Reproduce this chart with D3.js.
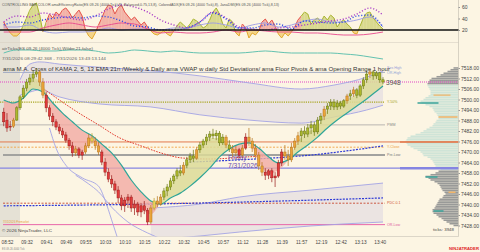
<!DOCTYPE html>
<html>
<head>
<meta charset="utf-8">
<script src="https://cdn.jsdelivr.net/npm/d3@7/dist/d3.min.js"></script>
<style>
html,body{margin:0;padding:0;background:#fcf5e3;overflow:hidden;}
svg{display:block;}
text{font-family:"Liberation Sans",Arial,sans-serif;}
</style>
</head>
<body>
<svg id="chart" width="480" height="252"></svg>
<script>
// ---------------- DATA ----------------
const timeLabels=["08:52","09:32","09:41","09:49","09:55","10:03","10:10","10:15","10:22","10:32","10:45","10:57","11:12","11:28","11:39","11:57","12:19","12:42","13:13","13:40"];
const timeLabelBars=[1,7,13,19,25,31,37,43,49,55,61,67,73,79,85,91,97,103,109,115];
const priceTicks=[7518,7512,7506,7500,7494,7488,7482,7476,7470,7464,7458,7452,7446,7440,7434,7428];
const oscTicks=[20,40,60];

// OHLC per bar [open, high, low, close]
const bars=[
[7492.75,7495.25,7484.75,7487.25],[7488.25,7492.25,7481.5,7483.75],[7484.25,7487.75,7482,7484.75],[7484.75,7489.5,7483.75,7488.25],
[7488.25,7496.25,7487.75,7495.25],[7495.25,7502.5,7494,7501.5],[7501.5,7508.25,7500.25,7506.5],[7506.5,7511.75,7504.75,7510],
[7510,7514.5,7508.25,7512.25],[7512.25,7516.75,7510,7514.5],[7514.5,7518,7512.75,7515.75],[7515.75,7516.75,7507.75,7510],
[7510,7512.25,7500.75,7502.5],[7502.5,7504.25,7492.75,7495.25],[7495.25,7496.75,7488.25,7490.5],[7490.5,7492.25,7484.75,7487.25],
[7487.25,7488.75,7482.5,7484.25],[7484.25,7486,7480.25,7482],[7482,7483.75,7478,7479.75],[7479.75,7481.5,7475.25,7476.75],
[7476.75,7478,7471.25,7473.5],[7473.5,7475.75,7467.25,7469.5],[7469.5,7473.5,7467.75,7471.75],[7471.75,7472.75,7466.5,7468.25],
[7468.25,7471.25,7465.5,7470],[7470,7475.25,7468.75,7473.5],[7473.5,7480.25,7472.25,7478],[7478,7480.75,7474.5,7476.25],
[7476.25,7478.5,7471.25,7473.5],[7473.5,7475.75,7468.25,7470],[7470,7471.25,7462.5,7464.25],[7464.25,7466.5,7456.25,7458.5],
[7458.5,7460.75,7452.75,7454.5],[7454.5,7456.75,7449.5,7451.75],[7451.75,7453.5,7446,7448.25],[7448.25,7450.5,7440.75,7443.75],
[7443.75,7445.5,7436.75,7439.25],[7439.25,7444.25,7435.75,7442.5],[7442.5,7446,7438,7444.25],[7444.25,7445.5,7435.75,7438],
[7438,7442.5,7434,7440.25],[7440.25,7441.5,7433.5,7435.75],[7435.75,7440.75,7432.75,7439.25],[7439.25,7442,7434.5,7436.75],
[7436.75,7438,7428.25,7430],[7430,7439.75,7428.75,7438],[7438,7443.75,7436.75,7442],[7442,7444.75,7438.5,7440.25],
[7440.25,7446,7439.25,7444.25],[7444.25,7449.5,7442.5,7447.75],[7447.75,7451.75,7444.75,7450],[7450,7455.25,7448.25,7453.5],
[7453.5,7457.5,7451.75,7456.25],[7456.25,7460.75,7454.5,7459.25],[7459.25,7462.5,7456.25,7458],[7458,7464.25,7456.75,7462.5],
[7462.5,7467.25,7460.75,7465.5],[7465.5,7469.5,7463.75,7467.75],[7467.75,7471.25,7464.25,7466.5],[7466.5,7472.75,7465.5,7471.25],
[7471.25,7475.75,7469.5,7474],[7474,7477.5,7472.25,7476.25],[7476.25,7480.25,7474,7478.5],[7478.5,7482,7476.25,7480.25],
[7480.25,7483.25,7477.5,7479.25],[7479.25,7482.5,7476.75,7480.75],[7480.75,7482,7473.5,7475.25],[7475.25,7480.25,7474,7478.5],
[7478.5,7479.75,7472.25,7474],[7474,7476.75,7470,7471.75],[7471.75,7474,7467.25,7469.5],[7469.5,7473.5,7467.75,7471.25],
[7471.25,7472.25,7466.5,7468.25],[7468.25,7474,7467.25,7472.25],[7472.25,7480.75,7471.25,7478.5],[7478.5,7483.75,7473.5,7476.25],
[7476.25,7478,7470,7472.25],[7472.25,7474.5,7466.5,7468.25],[7468.25,7470,7459.75,7462],[7462,7464.25,7456.25,7458.5],
[7458.5,7460.75,7454,7456.75],[7456.75,7460.25,7454.5,7459.25],[7459.25,7460.75,7452.75,7455.25],[7455.25,7458.5,7450,7456.25],
[7456.25,7465.5,7455.25,7463.75],[7463.75,7471.75,7462,7470],[7470,7474,7465.5,7467.75],[7467.75,7471.25,7462,7465.5],
[7465.5,7475.25,7464.25,7472.75],[7472.75,7478,7471.25,7476.25],[7476.25,7481.5,7474,7479.25],[7479.25,7483.75,7475.75,7482],
[7482,7484.75,7478,7480.25],[7480.25,7486,7478.5,7483.75],[7483.75,7487.75,7480.25,7485.5],[7485.5,7487.25,7479.25,7481.5],
[7481.5,7490,7480.25,7488.25],[7488.25,7492.25,7486,7490.5],[7490.5,7496.25,7488.25,7494.5],[7494.5,7498,7491.75,7496.25],
[7496.25,7500.25,7494,7498.5],[7498.5,7500.25,7494,7495.75],[7495.75,7499.75,7494,7498],[7498,7499.25,7494.5,7496.25],
[7496.25,7500.25,7495.25,7499.25],[7499.25,7503.25,7497.5,7502],[7502,7505.5,7499.75,7503.25],[7503.25,7507.25,7501.5,7505.5],
[7505.5,7506.5,7500.75,7502.5],[7502.5,7508.75,7501.5,7507.75],[7507.75,7512.75,7506,7511.25],[7511.25,7516.25,7509.5,7514.5],
[7514.5,7517.5,7512.25,7515.75],[7515.75,7516.75,7511.25,7513.5],[7513.5,7516.25,7511.75,7515.25],[7515.25,7515.75,7509.5,7511.25],
[7511.25,7512.75,7508.75,7510]
];
// bar colour codes: r red, g olive, o orange, y yellow
const barColors="rrrogggggggoorrrrrrrrrorrooyoorrrrrrrrrrrrrrroyooggggggogggoggggggggogoororooooorrrrrrooooogggggggoggggggogoggggoggggggoo".split("");

// moving averages (sampled bars)
const maIdx=[0,3,6,9,12,15,18,21,24,27,30,33,36,39,42,45,48,51,54,57,60,63,66,69,72,75,78,81,84,87,90,93,96,99,102,105,108,111,114,116];
const ema21=[7499.75,7498,7500.75,7506,7504.25,7498,7492.25,7487.25,7482.5,7479.25,7474.5,7469.5,7462.5,7454,7447.25,7442,7440.25,7443.75,7446.5,7450.5,7455.25,7460.75,7467.25,7471.75,7474.5,7475.25,7472.25,7467.25,7463.75,7465.5,7470,7474,7478.5,7483.75,7488.25,7492.25,7496.25,7500.25,7504.75,7507.75];
const kama=[7489.5,7487.75,7502.5,7512.25,7508.25,7489.5,7480.75,7472.25,7470,7475.25,7470,7454,7442.5,7440.25,7437.5,7434.5,7441.5,7451.25,7458.5,7465.5,7472.25,7478,7478,7472.25,7470,7475.25,7464.25,7457.5,7459.75,7465.5,7476.25,7481.5,7484.75,7494,7497.5,7500.25,7503.25,7511.25,7514.5,7511.25];

// VWAP std-dev bands
const bandIdx=[5,8,11,17,29,45,60,75,91,101,111,116];
const vwapUpper=[7511.25,7520.25,7521.5,7520.25,7518.5,7516.5,7513.5,7509.5,7506,7508.25,7512.75,7516.25];
const vwapInner=[7502.5,7504.25,7505.5,7501.5,7497.5,7495.75,7491.25,7488.25,7486.5,7490,7494,7496.75];
const lowBandIdx=[45,60,72,94,116];
const lowBandUpper=[7438,7440.25,7444.25,7448.25,7452.25];
const lowBandLower=[7419.75,7422,7424.25,7427.75,7430];
const sdOuterIdx=[14,16,19,24,29,31,33,35];
const sdOuter=[7483.75,7472.25,7462.5,7455.25,7450.5,7442.5,7431.25,7419.75];
const sdInnerIdx=[22,26,29,33,38,44,49];
const sdInner=[7456.75,7451.75,7447.25,7438.5,7430,7423.75,7419.75];
const redMaIdx=[11,17,23,29,35,42,48,55,63,75,80];
const redMa=[7507.75,7499.75,7492.25,7485.5,7478.5,7473.5,7469.5,7466.5,7466,7467.25,7467.75];
const weeklyIdx=[57,72,94,116];
const weeklyVwap=[7464.25,7465.5,7468.25,7473.5];
const prevVwapIdx=[0,45,75,116];
const prevVwap=[7439.25,7440.25,7441.5,7443.75];

// floor pivots / opening range levels
const levelNames=["Ses High","OR-High","PDH","Y-50%","PMM","R1","Y-Close","Pre-Low","ONL","PDC 0.1","OR-Low"];
const levelPrices=[7518,7515.5,7510,7498.5,7485.5,7475.75,7472.75,7468.25,7460.75,7440.75,7428.5];

// upper indicator panel
const osc=[33.9,23.5,14.8,9.6,9.6,14.8,28.7,40.9,54.8,63.5,
67,46,16.5,33.9,47.8,40.9,51.3,46,54.8,58.3,
51.3,40.9,47.8,54.8,44.3,20,9.6,4.3,14.8,28.7,
40.9,54.8,63.5,61.7,47.8,58.3,63.5,51.3,44.3,37.4,
42.6,35.7,28.7,33.9,25.2,18.3,13,11.3,14.8,18.3,
13,9.6,18.3,27,33.9,28.7,23.5,30.4,39.1,35.7,
30.4,23.5,27,37.4,51.3,58.3,47.8,30.4,23.5,39.1,
33.9,14.8,9.6,30.4,23.5,6.1,14.8,11.3,18.3,33.9,
39.1,30.4,37.4,27,13,6.1,14.8,9.6,16.5,25.2,
37.4,44.3,51.3,47.8,30.4,37.4,40.9,33.9,44.3,37.4,
46,40.9,25.2,33.9,37.4,30.4,25.2,14.8,13,27,
40.9,49.6,51.3,40.9,33.9,27,21.7];
const lineIdx=[0,4,8,12,16,20,24,28,32,36,40,44,48,52,56,60,64,68,72,76,80,84,88,92,96,100,104,108,112,116];
const dmMinus=[16.5,16.5,16.5,23.5,28.7,32.2,28.7,25.2,28.7,32.2,30.4,21.7,14.8,16.5,14.8,14.8,16.5,20,16.5,20,18.3,16.5,16.5,14.8,14.8,13,11.3,11.3,13,16.5];
const adxSlow=[25.2,25.2,28.7,18.3,14.8,16.5,16.5,18.3,23.5,20,21.7,21.7,20,23.5,23.5,28.7,32.2,28.7,23.5,28.7,32.2,25.2,28.7,35.7,39.1,33.9,33.9,37.4,42.6,25.2];
const adx=[33.9,44.3,42.6,49.6,46,40.9,37.4,44.3,56.5,63.5,60,51.3,37.4,28.7,23.5,33.9,51.3,40.9,25.2,21.7,20,23.5,25.2,28.7,32.2,35.7,39.1,47.8,58.3,46];
const dmPlus=[28.7,33.9,32.2,37.4,40.9,42.6,40.9,44.3,42.6,35.7,27,25.2,20,20,23.5,33.9,49.6,39.1,23.5,23.5,28.7,30.4,21.7,35.7,33.9,32.2,33.9,44.3,46,25.2];
const atr=[22.5,25,25,24.2,24.2,25,25,24.2,22.5,23.3,25,24.2,23.3,24.2,23.3,22.5,22.5,22.5,22.5,23.3,24.2,23.3,22.5,22.5,22.5,22.5,21.7,20.8,19.2,17.5];

// volume profile, one row per point from 7518 down to 7428
const profileTop=7518, profileBottom=7428;
const profileVol=[5,8,11,15,18,22,27,29,30,31,
31,30,29,28,28,28,30,33,35,38,
37,33,29,26,25,24,22,21,20,20,
22,23,25,26,29,32,35,38,43,48,
51,52,53,52,51,48,45,41,38,36,
35,31,28,26,25,24,23,22,18,20,
23,28,33,30,28,24,21,19,18,17,
16,14,13,15,16,19,20,21,22,23,
24,26,26,25,22,20,17,15,12,9,
5];
const vaHigh=7508.5, vaLow=7459.5;
const profMarkPrices=[7498,7502.5,7490,7455.75,7447,7436.25];
const profMarkFrom=[41,25,20,33,10,25];
const profMarkTo=[20,8,1,21,3,15];
const profMarkKind=["t","o","o","t","o","t"];

// ---------------- DRAWING ----------------
const W=480,H=252,AXX=458.5,MAIN_TOP=55,MAIN_BOT=236.5,TOP_BOT=42.5;
const svg=d3.select("#chart");
const x=d3.scaleLinear().domain([0,116]).range([3.7,383]);
const y=d3.scaleLinear().domain([7428,7518]).range([225.5,68]);
const yT=d3.scaleLinear().domain([20,60]).range([30,7]);
const yA=d3.scaleLinear().domain([15,30]).range([62,44]);
const xP=d3.scaleLinear().domain([0,60]).range([AXX,AXX-60]);

svg.append("rect").attr("width",W).attr("height",H).attr("fill","#fcf5e3");
svg.append("rect").attr("x",0).attr("y",0).attr("width",20).attr("height",MAIN_BOT).attr("fill","#e5e1d5");

const defs=svg.append("defs");
const rectClip=(id,x0,y0,w,h)=>defs.append("clipPath").attr("id",id).append("rect").attr("x",x0).attr("y",y0).attr("width",w).attr("height",h);
rectClip("cTop",0,0,AXX,TOP_BOT);
rectClip("cMain",0,MAIN_TOP,AXX,MAIN_BOT-MAIN_TOP);
rectClip("cUp",0,0,AXX,yT(20));
rectClip("cDn",0,yT(20),AXX,TOP_BOT-yT(20));

const mkLine=(idx,vals,sc,curve)=>d3.line().x((d,i)=>x(idx[i])).y(d=>sc(d)).curve(curve||d3.curveMonotoneX)(vals);
const mkArea=(idx,a,b,sc)=>d3.area().x((d,i)=>x(idx[i])).y0((d,i)=>sc(b[i])).y1(d=>sc(d)).curve(d3.curveMonotoneX)(a);

// panel separators & axis line
svg.append("line").attr("x1",0).attr("x2",AXX).attr("y1",TOP_BOT).attr("y2",TOP_BOT).attr("stroke","#d6d0c2").attr("stroke-width",0.6);
svg.append("line").attr("x1",0).attr("x2",AXX).attr("y1",MAIN_BOT).attr("y2",MAIN_BOT).attr("stroke","#cfc9bb").attr("stroke-width",0.7);
svg.append("line").attr("x1",AXX).attr("x2",AXX).attr("y1",0).attr("y2",MAIN_BOT).attr("stroke","#c9c3b5").attr("stroke-width",0.7);

// ---- top panel ----
const gTop=svg.append("g").attr("clip-path","url(#cTop)");
const regime=[];let last="r";
barColors.forEach(c=>{if(c==="r"||c==="g")last=c;regime.push(last);});
const gUp=gTop.append("g").attr("clip-path","url(#cUp)");
for(let i=0;i<osc.length-1;i++){
  const bull=regime[i]==="g";
  const fill=bull?"#d9d98f":"#f3b3a8", strk=bull?"#a3b024":"#e2453c";
  gUp.append("path").attr("d",d3.area().x(d=>x(d)).y0(yT(20)).y1((d,k)=>yT(osc[i+k]))([i,i+1]))
    .attr("fill",fill).attr("stroke",fill).attr("stroke-width",0.3);
  gUp.append("path").attr("d",d3.line().x(d=>x(d)).y((d,k)=>yT(osc[i+k]))([i,i+1]))
    .attr("fill","none").attr("stroke",strk).attr("stroke-width",0.9);
}
const gDn=gTop.append("g").attr("clip-path","url(#cDn)");
gDn.append("path").attr("d",d3.area().x((d,i)=>x(i)).y0(yT(20)).y1(d=>yT(d))(osc)).attr("fill","#f4d488");
gDn.append("path").attr("d",d3.line().x((d,i)=>x(i)).y(d=>yT(d))(osc)).attr("fill","none").attr("stroke","#e0a21e").attr("stroke-width",0.9);
gTop.append("path").attr("d",mkLine(lineIdx,adxSlow,yT)).attr("fill","none").attr("stroke","#9a9ae6").attr("stroke-width",0.9);
gTop.append("path").attr("d",mkLine(lineIdx,dmMinus,yT)).attr("fill","none").attr("stroke","#e8478c").attr("stroke-width",0.9);
gTop.append("path").attr("d",mkLine(lineIdx,adx,yT)).attr("fill","none").attr("stroke","#a83ac8").attr("stroke-width",1.4).attr("stroke-dasharray","1.1,1.9");
gTop.append("path").attr("d",mkLine(lineIdx,dmPlus,yT)).attr("fill","none").attr("stroke","#2a4ae8").attr("stroke-width",1.4).attr("stroke-dasharray","1.1,1.9");
svg.append("line").attr("x1",0).attr("x2",AXX).attr("y1",yT(20)).attr("y2",yT(20)).attr("stroke","#111").attr("stroke-width",1.3);
svg.append("text").attr("x",2).attr("y",6).attr("font-size",4.2).attr("fill","#555").attr("textLength",277).attr("lengthAdjust","spacingAndGlyphs")
  .text("CONTROLLING BAR COLOR amaEfficiencyRatio(ES 09-26 (4000 Tick),8), Balanced,0.75,13,8), ColoredADX(ES 09-26 (4000 Tick),8), JanaDMI(ES 09-26 (4000 Tick),8,13)");
svg.append("g").attr("transform",`translate(${AXX},0)`)
  .call(d3.axisRight(yT).tickValues(oscTicks).tickSize(1.5).tickPadding(2))
  .call(g=>g.select(".domain").remove())
  .call(g=>g.selectAll("line").attr("stroke","#999"))
  .call(g=>g.selectAll("text").attr("font-size",5).attr("fill","#444").attr("font-family","Liberation Sans, Arial, sans-serif"));

// ---- ATR panel ----
svg.append("path").attr("d",mkLine(lineIdx,atr,yA)).attr("fill","none").attr("stroke","#63c2b0").attr("stroke-width",1);
svg.append("text").attr("x",2).attr("y",50).attr("font-size",4.1).attr("fill","#555").attr("textLength",91).attr("lengthAdjust","spacingAndGlyphs")
  .text("atrTicks(ES 09-26 (4000 Tick),Wilder,21,false)");

// ---- main panel ----
const gM=svg.append("g").attr("clip-path","url(#cMain)");
// VWAP band fills
gM.append("path").attr("d",mkArea(bandIdx,vwapUpper,vwapInner,y)).attr("fill","#ebe4e2");
gM.append("path").attr("d",mkArea(lowBandIdx,lowBandUpper,lowBandLower,y)).attr("fill","#ebe4e2");

// volume profile
const profPrices=d3.range(profileTop,profileBottom-1,-1);
gM.append("g").selectAll("rect").data(profileVol).join("rect")
  .attr("x",d=>xP(d)).attr("width",d=>AXX-xP(d))
  .attr("y",(d,i)=>y(profPrices[i])-0.8).attr("height",1.55)
  .attr("fill",(d,i)=>(profPrices[i]<=vaHigh&&profPrices[i]>=vaLow)?"#cfe4d7":"#999a98");
profMarkPrices.forEach((p,i)=>{
  gM.append("line").attr("x1",xP(profMarkFrom[i])).attr("x2",xP(profMarkTo[i])).attr("y1",y(p)).attr("y2",y(p))
    .attr("stroke",profMarkKind[i]==="t"?"#3aa39a":"#f0b468").attr("stroke-width",1.4);
});

// levels
const lvlStyle={
 "OR-High":{c:"#7f90b8",w:0.7,x0:3,x1:385},
 "PDH":{c:"#e043c4",w:1.2,d:"1,1",x0:0,x1:AXX},
 "Y-50%":{c:"#a8a622",w:1.2,d:"1.2,1",x0:0,x1:385},
 "PMM":{c:"#b9b6b0",w:1,x0:0,x1:385},
 "R1":{c:"#e27a4e",w:1,x0:0,x1:AXX},
 "Y-Close":{c:"#f0a444",w:0.9,d:"2,1.5",x0:0,x1:385},
 "Pre-Low":{c:"#a2a29f",w:2,x0:3,x1:385},
 "ONL":{c:"#8585e2",w:1.3,x0:0,x1:AXX},
 "PDC 0.1":{c:"#c8482f",w:0.9,d:"2,1.5",x0:3,x1:385},
 "OR-Low":{c:"#e866a8",w:1,x0:3,x1:385}
};
levelNames.forEach((n,i)=>{
  const s=lvlStyle[n]; if(!s) return;
  const ln=gM.append("line").attr("x1",s.x0).attr("x2",s.x1).attr("y1",y(levelPrices[i])).attr("y2",y(levelPrices[i]))
    .attr("stroke",s.c).attr("stroke-width",s.w);
  if(s.d) ln.attr("stroke-dasharray",s.d);
  if(n==="R1"||n==="ONL") gM.append("line").attr("x1",400).attr("x2",AXX).attr("y1",y(levelPrices[i])).attr("y2",y(levelPrices[i]))
    .attr("stroke",s.c).attr("stroke-width",n==="ONL"?2.6:1.6);
});

// band lines
const lav="#a4a4e4";
[[bandIdx,vwapUpper],[bandIdx,vwapInner],[lowBandIdx,lowBandUpper],[lowBandIdx,lowBandLower],[sdOuterIdx,sdOuter],[sdInnerIdx,sdInner]]
 .forEach(([ix,v])=>gM.append("path").attr("d",mkLine(ix,v,y)).attr("fill","none").attr("stroke",lav).attr("stroke-width",0.9));
gM.append("path").attr("d",mkLine(redMaIdx,redMa,y)).attr("fill","none").attr("stroke","#e23a2e").attr("stroke-width",1).attr("stroke-dasharray","1.6,1.2");
gM.append("path").attr("d",mkLine(weeklyIdx,weeklyVwap,y)).attr("fill","none").attr("stroke","#2e3ad6").attr("stroke-width",1.2).attr("stroke-dasharray","2,1.2");
gM.append("path").attr("d",mkLine(prevVwapIdx,prevVwap,y)).attr("fill","none").attr("stroke","#2e3ad6").attr("stroke-width",1.2).attr("stroke-dasharray","2,1.2");

// MA cross fill
const kArea=(y0)=>d3.area().x((d,i)=>x(maIdx[i])).y0(y0).y1(d=>y(d)).curve(d3.curveMonotoneX)(kama);
defs.append("clipPath").attr("id","cBelowK").append("path").attr("d",kArea(MAIN_BOT));
defs.append("clipPath").attr("id","cAboveK").append("path").attr("d",kArea(MAIN_TOP));
const eArea=(y0)=>d3.area().x((d,i)=>x(maIdx[i])).y0(y0).y1(d=>y(d)).curve(d3.curveMonotoneX)(ema21);
gM.append("g").attr("clip-path","url(#cBelowK)").append("path").attr("d",eArea(MAIN_TOP)).attr("fill","#dcdb98").attr("opacity",0.85);
gM.append("g").attr("clip-path","url(#cAboveK)").append("path").attr("d",eArea(MAIN_BOT)).attr("fill","#f1aaa2").attr("opacity",0.8);

// day label
gM.append("text").attr("x",228).attr("y",160).attr("font-size",6.7).attr("fill","#6a4cae").text("Friday");
gM.append("text").attr("x",228).attr("y",168).attr("font-size",6.7).attr("fill","#6a4cae").text("7/31/2026");

// EMA line
gM.append("path").attr("d",mkLine(maIdx,ema21,y)).attr("fill","none").attr("stroke","#2fa598").attr("stroke-width",1.2);

// candles
const cCol={r:["#e23b3b","#9a1a1a"],g:["#adb82c","#65750c"],o:["#eaa43a","#b5731a"],y:["#ead45e","#b59a20"]};
const cg=gM.append("g").selectAll("g").data(bars).join("g");
cg.append("line").attr("x1",(d,i)=>x(i)).attr("x2",(d,i)=>x(i)).attr("y1",d=>y(d[1])).attr("y2",d=>y(d[2]))
  .attr("stroke",(d,i)=>cCol[barColors[i]][1]).attr("stroke-width",0.7);
cg.append("rect").attr("x",(d,i)=>x(i)-1.15).attr("width",2.3)
  .attr("y",d=>y(Math.max(d[0],d[3]))).attr("height",d=>Math.max(0.8,Math.abs(y(d[0])-y(d[3]))))
  .attr("fill",(d,i)=>cCol[barColors[i]][0]).attr("stroke",(d,i)=>cCol[barColors[i]][1]).attr("stroke-width",0.5);

// level labels
const lblCol={"Ses High":"#9a9ad8","OR-High":"#8fa6d6","Y-50%":"#a3a020","PMM":"#8a8a8a","Y-Close":"#f0a040","Pre-Low":"#777","PDC 0.1":"#d0502e","OR-Low":"#e060a0"};
levelNames.forEach((n,i)=>{
  if(!lblCol[n]) return;
  svg.append("text").attr("x",387).attr("y",y(levelPrices[i])+1.2).attr("font-size",3.6).attr("fill",lblCol[n]).text(n);
});
svg.append("text").attr("x",386).attr("y",84.6).attr("font-size",6.6).attr("fill","#555").text("3948");

// titles
svg.append("text").attr("x",2).attr("y",60).attr("font-size",3.9).attr("fill","#666").attr("textLength",104).attr("lengthAdjust","spacingAndGlyphs")
  .text("7/31/2026 08:29:42.368 - 7/31/2026 13:43:13.144");
svg.append("text").attr("x",3).attr("y",71.3).attr("font-size",5.6).attr("fill","#333").attr("textLength",387).attr("lengthAdjust","spacingAndGlyphs")
  .text("ama M.A. Cross of  KAMA  2, 5, 13 EMA 21n /Weekly & Daily ama VWAP w daily Std Deviations/ ama Floor Pivots & ama Opening Range 1 hour");

// axes
svg.append("g").attr("transform",`translate(${AXX},0)`)
  .call(d3.axisRight(y).tickValues(priceTicks).tickFormat(d=>d.toFixed(2)).tickSize(1.5).tickPadding(1))
  .call(g=>g.select(".domain").remove())
  .call(g=>g.selectAll("line").attr("stroke","#999"))
  .call(g=>g.selectAll("text").attr("font-size",5).attr("fill","#444").attr("font-family","Liberation Sans, Arial, sans-serif"));
svg.append("g").attr("transform",`translate(0,${MAIN_BOT})`)
  .call(d3.axisBottom(x).tickValues(timeLabelBars).tickFormat((d,i)=>timeLabels[i]).tickSize(0).tickPadding(4))
  .call(g=>g.select(".domain").remove())
  .call(g=>g.selectAll("text").attr("font-size",4.7).attr("fill","#444").attr("font-family","Liberation Sans, Arial, sans-serif"));

// footer texts
svg.append("text").attr("x",3).attr("y",223).attr("font-size",2.8).attr("fill","#e8a040").text("7/31/2026 Premarket");
svg.append("text").attr("x",2).attr("y",232).attr("font-size",4.4).attr("fill","#444").attr("textLength",50).attr("lengthAdjust","spacingAndGlyphs").text("© 2026 NinjaTrader, LLC");
svg.append("text").attr("x",433).attr("y",231).attr("font-size",4.4).attr("fill","#444").text("ticks: 3948");
svg.append("text").attr("x",2).attr("y",250).attr("font-size",2.6).attr("fill","#888").text("ES 09-26 4000 Tick");
svg.append("text").attr("x",449).attr("y",250).attr("font-size",4).attr("font-weight","bold").attr("fill","#e02828").attr("textLength",30).attr("lengthAdjust","spacingAndGlyphs").text("NINJATRADER");
</script>
</body>
</html>
